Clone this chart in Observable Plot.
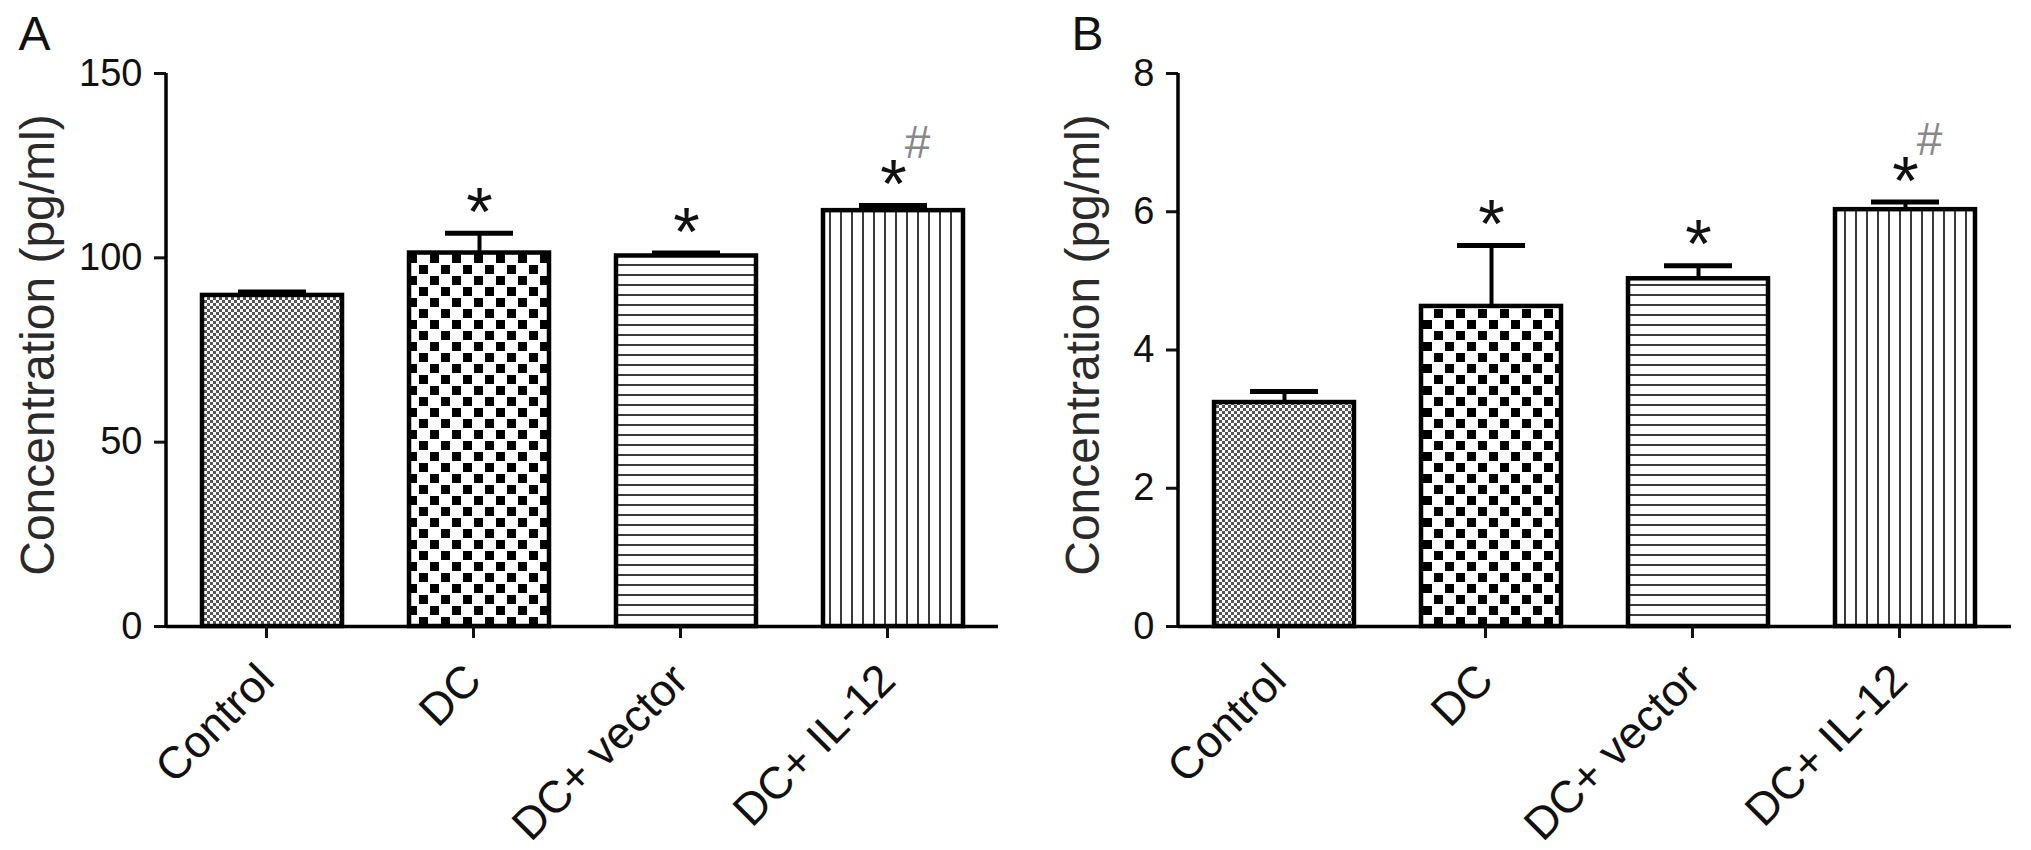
<!DOCTYPE html>
<html>
<head>
<meta charset="utf-8">
<script src="https://cdn.jsdelivr.net/npm/d3@7"></script>
<script src="https://cdn.jsdelivr.net/npm/@observablehq/plot@0.6"></script>
<style>
  html, body { margin: 0; padding: 0; background: #fff; }
  #wrap { display: flex; width: 2031px; height: 850px; }
</style>
</head>
<body>
<svg width="0" height="0" style="position:absolute">
  <defs>
    <pattern id="pDots" width="6" height="6" patternUnits="userSpaceOnUse">
      <rect width="6" height="6" fill="#fff"/>
      <rect x="0" y="0" width="3" height="3" fill="#555"/>
      <rect x="3" y="3" width="3" height="3" fill="#555"/>
    </pattern>
    <pattern id="pChecker" width="22" height="22" patternUnits="userSpaceOnUse">
      <rect width="22" height="22" fill="#fff"/>
      <rect x="1" y="1" width="9" height="9" fill="#000"/>
      <rect x="12" y="12" width="9" height="9" fill="#000"/>
    </pattern>
    <pattern id="pHLines" width="10" height="10" patternUnits="userSpaceOnUse">
      <rect width="10" height="10" fill="#fff"/>
      <rect x="0" y="4" width="10" height="2" fill="#3a3a3a"/>
    </pattern>
    <pattern id="pVLines" width="11" height="11" patternUnits="userSpaceOnUse">
      <rect width="11" height="11" fill="#fff"/>
      <rect x="4" y="0" width="2" height="11" fill="#3a3a3a"/>
    </pattern>
  </defs>
</svg>
<div id="wrap"><div id="pa"></div><div id="pb"></div></div>
<script>
// ---- data ----
const groups = ["Control", "DC", "DC+ vector", "DC+ IL-12"];
const meanA = [89.8, 101.3, 100.5, 112.8];
const semA = [0.9, 5.4, 0.8, 1.4];
const meanB = [3.24, 4.63, 5.03, 6.03];
const semB = [0.16, 0.88, 0.19, 0.11];
const starLabels = ["", "*", "*", "*"];
const hashLabels = ["", "", "", "#"];
const ticksA = [0, 50, 100, 150];
const ticksB = [0, 2, 4, 6, 8];
const yTitle = "Concentration (pg/ml)";
const patternIds = ["pDots", "pChecker", "pHLines", "pVLines"];

const FONT = '"Liberation Sans", Arial, Helvetica, sans-serif';

function panel({letter, means, sems, ticks, width, marginLeft, marginRight, letterDx, titleDx}) {
  const data = groups.map((g, i) => ({
    g, v: means[i], hi: means[i] + sems[i],
    star: starLabels[i], hash: hashLabels[i],
    fill: `url(#${patternIds[i]})`
  }));
  const ymax = ticks[ticks.length - 1];
  const chart = Plot.plot({
    width, height: 850,
    marginLeft, marginRight, marginTop: 73, marginBottom: 224,
    style: {fontFamily: FONT, background: "transparent", color: "#111", overflow: "visible"},
    x: {domain: groups, paddingInner: 0.325, paddingOuter: 0.169, label: null},
    y: {domain: [0, ymax], label: null},
    color: {type: "identity"},
    marks: [
      Plot.barY(data, {x: "g", y: "v", fill: "fill", stroke: "#000", strokeWidth: 4.5}),
      Plot.ruleX(data, {x: "g", y1: "v", y2: "hi", stroke: "#000", strokeWidth: 4}),
      Plot.tickY(data, {x: "g", y: "hi", stroke: "#000", strokeWidth: 5, insetLeft: 36, insetRight: 36}),
      Plot.ruleY([0], {stroke: "#000", strokeWidth: 3.5}),
      Plot.axisY({ticks, tickSize: 12, tickPadding: 12, fontSize: 38, strokeWidth: 3, label: null}),
      Plot.axisX({tickSize: 12, tickRotate: -45, tickPadding: 34, dx: -6, fontSize: 45, strokeWidth: 3, label: null}),
      Plot.text(data.filter(d => d.star), {x: "g", y: "hi", text: "star", fontSize: 68, dy: -20, fill: "#111"}),
      Plot.text(data.filter(d => d.hash), {x: "g", y: "hi", text: "hash", fontSize: 46, dx: 24, dy: -62, fill: "#888"}),
      Plot.text([yTitle], {frameAnchor: "left", textAnchor: "middle", rotate: -90, dx: titleDx, dy: -5, fontSize: 48, fill: "#2a2a2a"}),
      Plot.text([letter], {frameAnchor: "top-left", textAnchor: "start", lineAnchor: "top", dx: letterDx, dy: -58, fontSize: 48, fill: "#111"})
    ]
  });
  // y-axis line drawn through Plot's own y scale
  const sy = chart.scale("y");
  d3.select(chart).append("line")
    .attr("x1", marginLeft).attr("x2", marginLeft)
    .attr("y1", sy.apply(0) + 1.75).attr("y2", sy.apply(ymax))
    .attr("stroke", "#000").attr("stroke-width", 3.5);
  return chart;
}

document.getElementById("pa").append(panel({
  letter: "A", means: meanA, sems: semA, ticks: ticksA,
  width: 1015, marginLeft: 166, marginRight: 17, letterDx: -148, titleDx: -128
}));
document.getElementById("pb").append(panel({
  letter: "B", means: meanB, sems: semB, ticks: ticksB,
  width: 1016, marginLeft: 163, marginRight: 20, letterDx: -107, titleDx: -95
}));
</script>
</body>
</html>
